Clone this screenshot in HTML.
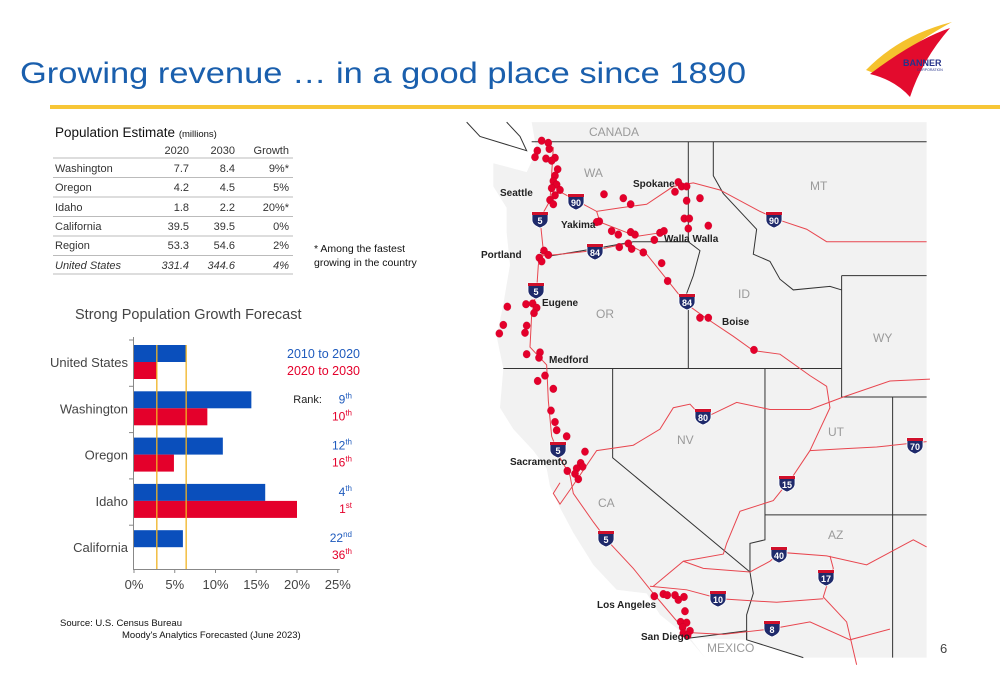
<!DOCTYPE html>
<html><head><meta charset="utf-8"><style>
html,body{margin:0;padding:0;background:#fff;}
body{width:1000px;height:685px;overflow:hidden;position:relative;font-family:"Liberation Sans",sans-serif;}
svg{position:absolute;left:0;top:0;}
</style></head><body>
<svg width="1000" height="685" viewBox="0 0 1000 685">
<!-- header -->
<text x="20" y="83" font-size="30" fill="#1a5fad" textLength="726" lengthAdjust="spacingAndGlyphs">Growing revenue … in a good place since 1890</text>
<rect x="50" y="105" width="950" height="4" fill="#f7c636"/>
<g>
<path d="M866,70 Q900,35 952,22 Q915,42 876,74 Z" fill="#f5c22e"/>
<path d="M870,74 Q915,40 950,28 Q922,60 910,97 Q895,80 870,74 Z" fill="#e30b2d"/>
<text x="903" y="66" font-size="9" font-weight="bold" fill="#26338a">BANNER</text>
<text x="917" y="71" font-size="3.5" fill="#26338a">CORPORATION</text>
</g>

<!-- table -->
<g font-size="11" fill="#333">
<text x="55" y="137" font-size="13.5" fill="#111">Population Estimate <tspan font-size="9.5">(millions)</tspan></text>
<g text-anchor="end"><text x="189" y="154">2020</text><text x="235" y="154">2030</text><text x="289" y="154">Growth</text></g>
<g stroke="#bbb" stroke-width="1">
<line x1="53" y1="158" x2="293" y2="158"/><line x1="53" y1="177.5" x2="293" y2="177.5"/><line x1="53" y1="197" x2="293" y2="197"/><line x1="53" y1="216.5" x2="293" y2="216.5"/><line x1="53" y1="236" x2="293" y2="236"/><line x1="53" y1="255.5" x2="293" y2="255.5"/><line x1="53" y1="274" x2="293" y2="274"/>
</g>
<g><text x="55" y="172">Washington</text><text x="189" y="172" text-anchor="end">7.7</text><text x="235" y="172" text-anchor="end">8.4</text><text x="289" y="172" text-anchor="end">9%*</text></g>
<g><text x="55" y="191">Oregon</text><text x="189" y="191" text-anchor="end">4.2</text><text x="235" y="191" text-anchor="end">4.5</text><text x="289" y="191" text-anchor="end">5%</text></g>
<g><text x="55" y="211">Idaho</text><text x="189" y="211" text-anchor="end">1.8</text><text x="235" y="211" text-anchor="end">2.2</text><text x="289" y="211" text-anchor="end">20%*</text></g>
<g><text x="55" y="230">California</text><text x="189" y="230" text-anchor="end">39.5</text><text x="235" y="230" text-anchor="end">39.5</text><text x="289" y="230" text-anchor="end">0%</text></g>
<g><text x="55" y="249">Region</text><text x="189" y="249" text-anchor="end">53.3</text><text x="235" y="249" text-anchor="end">54.6</text><text x="289" y="249" text-anchor="end">2%</text></g>
<g font-style="italic"><text x="55" y="269">United States</text><text x="189" y="269" text-anchor="end">331.4</text><text x="235" y="269" text-anchor="end">344.6</text><text x="289" y="269" text-anchor="end">4%</text></g>
</g>
<text x="314" y="252" font-size="10.5" fill="#111">* Among the fastest</text>
<text x="314" y="266" font-size="10.5" fill="#111">growing in the country</text>

<!-- bar chart -->
<text x="75" y="319" font-size="14.5" fill="#444">Strong Population Growth Forecast</text>
<g id="chart"></g>

<text x="60" y="626" font-size="9.5" fill="#111">Source:   U.S. Census Bureau</text>
<text x="122" y="638" font-size="9.5" fill="#111">Moody's Analytics Forecasted (June 2023)</text>

<!-- map -->
<g>
<g transform="translate(460,115) scale(0.3333,0.357)">
<path fill="#f2f2f2" d="M215,20 L1400,20 L1400,1520 L1030,1520 L860,1470 L690,1465 L735,1520 L680,1460 L600,1400 L560,1340 L470,1330 L400,1260 L340,1170 L300,1100 L270,1040 L260,990 L220,940 L160,880 L120,820 L130,710 L110,620 L130,530 L150,420 L140,330 L140,260 L100,200 L100,135 L200,160 L230,100 Z"/>
<path d="M20,20 L60,60 L200,100 L180,60 L140,20" fill="none" stroke="#333" stroke-width="1" vector-effect="non-scaling-stroke"/>
<g fill="none" stroke="#333" stroke-width="1">
<path vector-effect="non-scaling-stroke" d="M215,75 L1400,75"/>
<path vector-effect="non-scaling-stroke" d="M685,75 L685,355 L720,380 L700,450 L680,500 L685,540 L685,710"/>
<path vector-effect="non-scaling-stroke" d="M240,385 L270,395 L400,375 L520,355 L685,355"/>
<path vector-effect="non-scaling-stroke" d="M760,75 L760,170 L790,220 L860,290 L890,320 L880,390 L930,410 L960,460 L1000,490 L1110,480 L1145,490"/>
<path vector-effect="non-scaling-stroke" d="M1145,450 L1400,450 M1145,450 L1145,790 L1400,790"/>
<path vector-effect="non-scaling-stroke" d="M130,710 L1145,710"/>
<path vector-effect="non-scaling-stroke" d="M458,710 L458,960 L870,1280 L880,1340 L860,1400 L860,1470"/>
<path vector-effect="non-scaling-stroke" d="M915,710 L915,1190 L870,1200 L870,1280"/>
<path vector-effect="non-scaling-stroke" d="M915,1120 L1400,1120 M1298,790 L1298,1520"/>
<path vector-effect="non-scaling-stroke" d="M690,1465 L860,1445 L860,1470 L1030,1520"/>
</g>
<g fill="none" stroke="#e8464f" stroke-width="1">
<path vector-effect="non-scaling-stroke" d="M280,90 L270,240 L240,290 L250,380 L235,420 L230,490 L215,560 L210,650 L260,700 L265,800 L275,900 L300,960 L330,1010 L340,1060 L400,1140 L440,1190 L520,1270 L580,1340 L680,1450"/>
<path vector-effect="non-scaling-stroke" d="M290,210 L350,240 L410,270 L480,260 L560,250 L640,200 L700,190 L780,210 L900,270 L960,295 L1040,320 L1100,355 L1400,355"/>
<path vector-effect="non-scaling-stroke" d="M410,270 L420,300 L530,340 L600,330"/>
<path vector-effect="non-scaling-stroke" d="M240,395 L300,390 L400,380 L500,360 L560,390 L620,460 L680,530 L740,570 L820,620 L880,660 L960,670 L1050,730 L1100,760 L1110,820 L1070,900 L1050,940 L1000,1010 L940,1080 L840,1110 L800,1200 L790,1230 L670,1250 L580,1320"/>
<path vector-effect="non-scaling-stroke" d="M330,1050 L410,940 L520,925 L600,880 L640,820 L690,810 L730,850 L830,805 L930,825 L1050,825 L1150,790 L1290,745 L1410,740"/>
<path vector-effect="non-scaling-stroke" d="M1050,940 L1150,935 L1250,930 L1400,915"/>
<path vector-effect="non-scaling-stroke" d="M670,1250 L730,1270 L870,1280 L930,1250 L960,1225 L1100,1235 L1220,1260 L1360,1190 L1400,1210"/>
<path vector-effect="non-scaling-stroke" d="M1110,1235 L1120,1270 L1100,1320 L1090,1350 L1160,1420 L1190,1540"/>
<path vector-effect="non-scaling-stroke" d="M570,1320 L680,1330 L780,1355 L950,1365 L1090,1355"/>
<path vector-effect="non-scaling-stroke" d="M690,1450 L790,1455 L930,1440 L1050,1420 L1170,1470 L1290,1440"/>
<path vector-effect="non-scaling-stroke" d="M300,1030 L280,1060 L300,1090 L330,1050"/>
</g>
<g id="dots" fill="#e4002b" stroke="#a00020" stroke-width="0.5"></g>
</g>
<g id="shields"></g>
<g font-size="10" font-weight="bold" fill="#222">
<text x="500" y="196">Seattle</text><text x="633" y="187">Spokane</text><text x="561" y="228">Yakima</text><text x="664" y="242">Walla Walla</text><text x="481" y="258">Portland</text><text x="542" y="306">Eugene</text><text x="722" y="325">Boise</text><text x="549" y="363">Medford</text><text x="510" y="465">Sacramento</text><text x="597" y="608">Los Angeles</text><text x="641" y="640">San Diego</text>
</g>
<g font-size="12" fill="#9a9a9a">
<text x="589" y="136">CANADA</text><text x="584" y="177">WA</text><text x="810" y="190">MT</text><text x="738" y="298">ID</text><text x="596" y="318">OR</text><text x="873" y="342">WY</text><text x="677" y="444">NV</text><text x="828" y="436">UT</text><text x="598" y="507">CA</text><text x="828" y="539">AZ</text><text x="707" y="652">MEXICO</text>
</g>
</g>
<text x="940" y="653" font-size="13" fill="#444">6</text>
</svg>
<script>
const NS='http://www.w3.org/2000/svg';
// chart data
const categories=['United States','Washington','Oregon','Idaho','California'];
const growth2010_2020=[6.4,14.4,10.9,16.1,6.0];
const growth2020_2030=[2.8,9.0,4.9,20.0,0];
const rank2010=['9th','12th','4th','22nd'];
const rank2020=['10th','16th','1st','36th'];
const xTicks=[0,5,10,15,20,25];
const refLines=[2.8,6.4];
const X0=134,PX=8.15,Y0=345,STEP=46.3,BH=17;
const xs=v=>X0+v*PX;
const band=i=>Y0+i*STEP;
function mk(tag,attrs,parent,txt){const e=document.createElementNS(NS,tag);for(const k in attrs)e.setAttribute(k,attrs[k]);if(txt!==undefined)e.textContent=txt;parent.appendChild(e);return e;}
const ch=document.getElementById('chart');
categories.forEach((c,i)=>{
  const y=band(i);
  const b=mk('rect',{x:xs(0),y:y,width:xs(growth2010_2020[i])-xs(0),height:BH,fill:'#0a4fbc'},ch);
  
  
  const r=mk('rect',{x:xs(0),y:y+BH,width:xs(growth2020_2030[i])-xs(0),height:BH,fill:'#e4002b'},ch);
  
  
  const l=mk('text',{x:128,y:y+BH+5,'text-anchor':'end','font-size':13,fill:'#444'},ch,c);
  
  
  const t=mk('line',{x1:129,x2:133,y1:y-5,y2:y-5,stroke:'#888'},ch);
  
  
});
refLines.forEach(v=>{const l=mk('line',{x1:xs(v),x2:xs(v),y1:345,y2:569,stroke:'#f0b323','stroke-width':1.3},ch);
  
  });
const ya=mk('line',{x1:133.5,x2:133.5,y1:337,y2:570,stroke:'#888'},ch);


const xa=mk('line',{x1:133,x2:xs(25)+2,y1:569.5,y2:569.5,stroke:'#888'},ch);


xTicks.forEach(v=>{
  const tk=mk('line',{x1:xs(v),x2:xs(v),y1:569,y2:573,stroke:'#888'},ch);
  
  
  const tl=mk('text',{x:xs(v),y:589,'text-anchor':'middle','font-size':13,fill:'#444'},ch,v+'%');
  
  
});
const lg1=mk('text',{x:360,y:358,'text-anchor':'end','font-size':12.5,fill:'#1f5bbd'},ch,'2010 to 2020');


const lg2=mk('text',{x:360,y:375,'text-anchor':'end','font-size':12.5,fill:'#e4002b'},ch,'2020 to 2030');


const rk=mk('text',{x:322,y:403,'text-anchor':'end','font-size':11,fill:'#222'},ch,'Rank:');


function ord(s){return s.match(/^(\d+)(\D+)$/);}
for(let i=0;i<4;i++){
  const y=band(i+1);
  [[rank2010[i],'#1f5bbd',y+12],[rank2020[i],'#e4002b',y+29]].forEach(([s,col,yy])=>{
    const m=ord(s);
    const t=mk('text',{x:352,y:yy,'text-anchor':'end','font-size':12,fill:col},ch);
    
    
    mk('tspan',{},t,m[1]);
    mk('tspan',{'font-size':8,dy:-5},t,m[2]);
  });
}
// map dots (map-space coordinates)
const dotPts=[[245,72],[265,78],[268,95],[232,100],[225,118],[258,122],[285,120],[275,128],[293,152],[285,170],[280,185],[290,195],[275,205],[300,210],[285,225],[270,238],[280,250],[432,222],[490,233],[512,250],[418,298],[410,300],[455,325],[475,335],[512,328],[525,335],[583,350],[600,330],[612,325],[478,370],[505,360],[515,375],[550,385],[605,415],[623,465],[655,188],[645,215],[665,200],[680,200],[680,240],[720,233],[673,290],[688,290],[685,318],[745,310],[252,380],[265,392],[238,400],[245,410],[142,537],[198,530],[218,528],[230,540],[222,555],[130,588],[118,612],[200,590],[195,610],[200,670],[240,665],[237,680],[255,730],[233,745],[280,767],[273,828],[285,860],[290,883],[320,900],[375,943],[362,975],[368,985],[350,990],[322,997],[345,1005],[355,1020],[583,1348],[610,1342],[622,1345],[645,1345],[655,1358],[672,1350],[675,1390],[662,1420],[680,1422],[668,1435],[690,1445],[670,1452],[683,1458],[720,568],[745,568],[882,658]];
const dg=document.getElementById('dots');
dotPts.forEach(p=>{const c=mk('circle',{cx:p[0],cy:p[1],r:11},dg);
  
  });
const shieldList=[['5',540,219],['5',536,290],['5',558,449],['5',606,538],['90',576,201],['90',774,219],['84',595,251],['84',687,301],['80',703,416],['70',915,445],['15',787,483],['40',779,554],['17',826,577],['10',718,598],['8',772,628]];
const sg=document.getElementById('shields');
shieldList.forEach(([n,x,y])=>{
  const g=mk('g',{},sg);
  
  
  mk('path',{d:`M${x-8},${y-7} L${x+8},${y-7} L${x+8},${y+1} Q${x+8},${y+6} ${x},${y+9} Q${x-8},${y+6} ${x-8},${y+1} Z`,fill:'#1f2a6b',stroke:'#fff','stroke-width':0.8},g);
  mk('rect',{x:x-8,y:y-7,width:16,height:3,fill:'#d0102b'},g);
  mk('text',{x:x,y:y+5,'text-anchor':'middle','font-size':9,'font-weight':'bold',fill:'#fff'},g,n);
});
</script>
</body></html>
